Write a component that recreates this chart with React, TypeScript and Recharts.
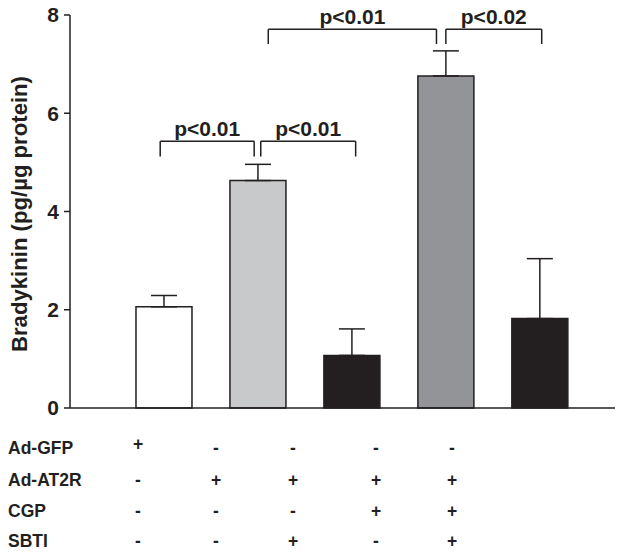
import React from "react";
import {
  ComposedChart,
  Bar,
  Cell,
  ErrorBar,
  XAxis,
  YAxis,
  ReferenceLine,
  ReferenceDot,
} from "recharts";

// bar groups (x positions on a numeric axis)
const positions = [1, 2, 3, 4, 5];
const means = [2.06, 4.63, 1.07, 6.76, 1.82];
const sem = [0.23, 0.33, 0.54, 0.51, 1.22];

// significance brackets
const bracketStart = [0.96, 2.03, 2.11, 4.0];
const bracketEnd = [1.96, 3.04, 3.9, 5.02];
const bracketTop = [5.43, 5.43, 7.71, 7.71];
const bracketBase = [5.12, 5.12, 7.41, 7.41];
const bracketLabels = ["p<0.01", "p<0.01", "p<0.01", "p<0.02"];

// treatment table under the chart
const rowLabels = ["Ad-GFP", "Ad-AT2R", "CGP", "SBTI"];
const adGfp = ["+", "-", "-", "-", "-"];
const adAt2r = ["-", "+", "+", "+", "+"];
const cgp = ["-", "-", "-", "+", "+"];
const sbti = ["-", "-", "+", "-", "+"];
const tableRows = [adGfp, adAt2r, cgp, sbti];

const yTicks = [0, 2, 4, 6, 8];
const yTitle = "Bradykinin (pg/µg protein)";

const INK = "#231f20";
const BAR_FILLS = ["#ffffff", "#c8c9cb", "#231f20", "#929497", "#231f20"];
const FONT = "'Liberation Sans', Arial, sans-serif";
const COL_X = [138, 216, 293, 376, 452];
const ROW_Y = [448, 480, 511, 541];

const data = positions.map((x, i) => ({ x, value: means[i], err: [0, sem[i]] }));

export default function App() {
  return (
    <div
      style={{
        position: "absolute",
        left: 0,
        top: 0,
        width: 624,
        height: 557,
        background: "#fff",
        fontFamily: FONT,
        color: INK,
      }}
    >
      <ComposedChart
        width={624}
        height={420}
        data={data}
        margin={{ top: 15, right: 9, left: 0, bottom: 10 }}
      >
        <XAxis
          type="number"
          dataKey="x"
          domain={[0, 5.8]}
          ticks={[]}
          tick={false}
          tickLine={false}
          height={2}
          axisLine={{ stroke: INK, strokeWidth: 1.5 }}
          allowDataOverflow
        />
        <YAxis
          type="number"
          domain={[0, 8]}
          ticks={yTicks}
          interval={0}
          width={70}
          tickSize={6}
          tickMargin={5}
          axisLine={{ stroke: INK, strokeWidth: 1.5 }}
          tickLine={{ stroke: INK, strokeWidth: 1.5 }}
          tick={{ fill: INK, fontSize: 21, fontWeight: 700, fontFamily: FONT }}
        />
        <Bar
          dataKey="value"
          barSize={56}
          stroke={INK}
          strokeWidth={1.5}
          isAnimationActive={false}
        >
          {data.map((d, i) => (
            <Cell key={d.x} fill={BAR_FILLS[i]} />
          ))}
          <ErrorBar dataKey="err" direction="y" width={13} stroke={INK} strokeWidth={1.5} />
        </Bar>
        {bracketStart.map((s, i) => (
          <ReferenceLine
            key={`h${i}`}
            segment={[
              { x: s, y: bracketTop[i] },
              { x: bracketEnd[i], y: bracketTop[i] },
            ]}
            stroke={INK}
            strokeWidth={1.5}
            ifOverflow="visible"
          />
        ))}
        {bracketStart.map((s, i) => (
          <ReferenceLine
            key={`l${i}`}
            segment={[
              { x: s, y: bracketBase[i] },
              { x: s, y: bracketTop[i] },
            ]}
            stroke={INK}
            strokeWidth={1.5}
            ifOverflow="visible"
          />
        ))}
        {bracketEnd.map((e, i) => (
          <ReferenceLine
            key={`r${i}`}
            segment={[
              { x: e, y: bracketBase[i] },
              { x: e, y: bracketTop[i] },
            ]}
            stroke={INK}
            strokeWidth={1.5}
            ifOverflow="visible"
          />
        ))}
        {bracketLabels.map((t, i) => (
          <ReferenceDot
            key={`t${i}`}
            x={(bracketStart[i] + bracketEnd[i]) / 2}
            y={bracketTop[i]}
            r={0}
            fill="none"
            stroke="none"
            ifOverflow="visible"
            label={{
              value: t,
              position: "top",
              offset: 5,
              style: { fill: INK, fontSize: 21, fontWeight: 700, fontFamily: FONT },
            }}
          />
        ))}
      </ComposedChart>
      <svg
        width={40}
        height={420}
        style={{ position: "absolute", left: 0, top: 0, pointerEvents: "none" }}
      >
        <text
          transform="translate(27,214) rotate(-90)"
          textAnchor="middle"
          fontSize={22}
          fontWeight={700}
          fontFamily={FONT}
          fill={INK}
          textLength={276}
          lengthAdjust="spacingAndGlyphs"
        >
          {yTitle}
        </text>
      </svg>
      {rowLabels.map((label, r) => (
        <React.Fragment key={label}>
          <div
            style={{
              position: "absolute",
              left: 8,
              top: ROW_Y[r] - 11,
              fontSize: 17.5,
              fontWeight: 700,
              lineHeight: "22px",
            }}
          >
            {label}
          </div>
          {tableRows[r].map((sym, c) => (
            <div
              key={c}
              style={{
                position: "absolute",
                left: COL_X[c] - 15,
                width: 30,
                textAlign: "center",
                top: ROW_Y[r] - 11 - (sym === "+" && r === 0 ? 4 : 0),
                fontSize: 17.5,
                fontWeight: 700,
                lineHeight: "22px",
              }}
            >
              {sym}
            </div>
          ))}
        </React.Fragment>
      ))}
    </div>
  );
}
